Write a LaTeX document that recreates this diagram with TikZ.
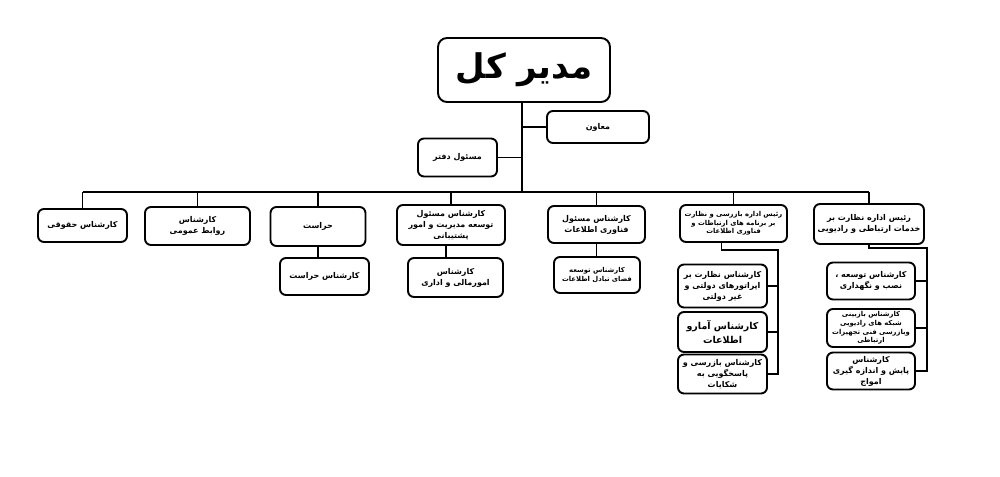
\documentclass[tikz,border=0pt]{standalone}
\usepackage{fontspec}
\newfontfamily\farsi[Script=Arabic]{DejaVu Sans}
\TeXXeTstate=1
\newcommand{\fa}[1]{\beginR #1\endR}
\begin{document}
\begin{tikzpicture}[x=1pt,y=-1pt,
  box/.style={draw, line width=1.9pt, rounded corners=6pt, align=center, inner sep=1pt,
    font=\farsi\bfseries\fontsize{8}{11}\selectfont},
  tiny/.style={font=\farsi\bfseries\fontsize{6.8}{8.6}\selectfont},
  conn/.style={line width=1.7pt}]
\useasboundingbox[fill=white] (0,0) rectangle (1000,476);

% top
\node[box, rounded corners=9pt, minimum width=172pt, minimum height=64pt,
  font=\farsi\bfseries\fontsize{34}{40}\selectfont] (gm) at (524,70) {\fa{مدیر کل}};
\node[box, minimum width=102pt, minimum height=32pt] (dep) at (598,127) {\fa{معاون}};
\node[box, minimum width=79pt, minimum height=38pt] (off) at (457.5,157.5) {\fa{مسئول دفتر}};
\coordinate (bus) at (522,192);

% first row
\node[box, minimum width=89pt, minimum height=33pt] (b1) at (82.5,225.5) {\fa{کارشناس حقوقی}};
\node[box, minimum width=105pt, minimum height=38pt] (b2) at (197.5,226) {\fa{کارشناس}\\\fa{روابط عمومی}};
\node[box, minimum width=95pt, minimum height=39pt] (b3) at (318,226.5) {\fa{حراست}};
\node[box, minimum width=108pt, minimum height=40pt] (b4) at (451,225) {\fa{کارشناس مسئول}\\\fa{توسعه مدیریت و امور}\\\fa{پشتیبانی}};
\node[box, minimum width=97pt, minimum height=37pt] (b5) at (596.5,224.5) {\fa{کارشناس مسئول}\\\fa{فناوری اطلاعات}};
\node[box, tiny, minimum width=107pt, minimum height=37pt] (b6) at (733.5,223.5) {\fa{رئیس اداره بازرسی و نظارت}\\\fa{بر برنامه های ارتباطات و}\\\fa{فناوری اطلاعات}};
\node[box, minimum width=110pt, minimum height=40pt] (b7) at (869,224) {\fa{رئیس اداره نظارت بر}\\\fa{خدمات ارتباطی و رادیویی}};

% second row
\node[box, minimum width=89pt, minimum height=37pt] (s3) at (324.5,276.5) {\fa{کارشناس حراست}};
\node[box, minimum width=95pt, minimum height=39pt] (s4) at (455.5,277.5) {\fa{کارشناس}\\\fa{امورمالی و اداری}};
\node[box, tiny, minimum width=86pt, minimum height=36pt] (s5) at (597,275) {\fa{کارشناس توسعه}\\\fa{فضای تبادل اطلاعات}};

% column 6
\node[box, minimum width=89pt, minimum height=43pt] (c6a) at (722.5,286) {\fa{کارشناس نظارت بر}\\\fa{اپراتورهای دولتی و}\\\fa{غیر دولتی}};
\node[box, font=\farsi\bfseries\fontsize{9.5}{14}\selectfont, minimum width=89pt, minimum height=40pt] (c6b) at (722.5,332) {\fa{کارشناس آمارو}\\\fa{اطلاعات}};
\node[box, minimum width=89pt, minimum height=39pt] (c6c) at (722.5,374) {\fa{کارشناس بازرسی و}\\\fa{پاسخگویی به}\\\fa{شکایات}};
\coordinate (r6) at (778,250);

% column 7
\node[box, minimum width=88pt, minimum height=37pt] (c7a) at (871,281) {\fa{کارشناس توسعه ،}\\\fa{نصب و نگهداری}};
\node[box, tiny, minimum width=88pt, minimum height=38pt] (c7b) at (871,328) {\fa{کارشناس بازبینی}\\\fa{شبکه های رادیویی}\\\fa{وبازرسی فنی تجهیزات}\\\fa{ارتباطی}};
\node[box, minimum width=88pt, minimum height=37pt] (c7c) at (871,371) {\fa{کارشناس}\\\fa{پایش و اندازه گیری}\\\fa{امواج}};
\coordinate (r7) at (927,248);

% connectors
\draw[conn] (gm.south -| bus) -- (bus);
\draw[conn] (dep.west) -- (dep.west -| bus);
\draw[conn] (off.east) -- (off.east -| bus);
\draw[conn] (b1.north |- bus) -- (b7.north |- bus);
\foreach \b in {b1,b2,b3,b4,b5,b6,b7}
  \draw[conn] (\b.north) -- (\b.north |- bus);
\draw[conn] (b3.south) -- (b3.south |- s3.north);
\draw[conn] ([xshift=-5pt]b4.south) -- ([xshift=-5pt]b4.south |- s4.north);
\draw[conn] (b5.south) -- (b5.south |- s5.north);

\draw[conn] ([xshift=-12pt]b6.south) |- (r6) -- (r6 |- c6c.east) -- (c6c.east);
\draw[conn] (c6a.east) -- (c6a.east -| r6);
\draw[conn] (c6b.east) -- (c6b.east -| r6);

\draw[conn] (b7.south) |- (r7) -- (r7 |- c7c.east) -- (c7c.east);
\draw[conn] (c7a.east) -- (c7a.east -| r7);
\draw[conn] (c7b.east) -- (c7b.east -| r7);
\end{tikzpicture}
\end{document}
